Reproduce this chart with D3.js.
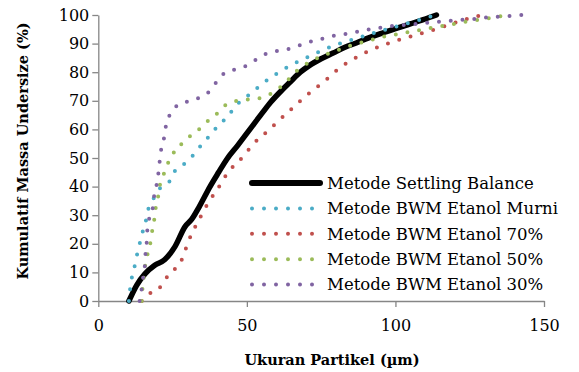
<!DOCTYPE html>
<html>
<head>
<meta charset="utf-8">
<script src="https://d3js.org/d3.v7.min.js"></script>
<style>
body { margin: 0; background: #fff; }
svg { display: block; }
text { font-family: "DejaVu Serif", serif; fill: #000; }
.axis path, .axis line { stroke: #868686; stroke-width: 1.3px; }
.axis text { font-size: 16px; font-family: "DejaVu Serif", serif; }
.title { font-weight: bold; font-size: 14.5px; }
.legend text { font-size: 16.5px; }
</style>
</head>
<body>
<div id="chart"></div>
<script>

var width = 579;
var height = 372;

// data: particle size (um) vs cumulative % undersize
var seriesNames = ["Metode Settling Balance", "Metode BWM Etanol Murni", "Metode BWM Etanol 70%",
  "Metode BWM Etanol 50%", "Metode BWM Etanol 30%"];
var seriesColors = ["#000000", "#4BACC6", "#C0504D", "#9BBB59", "#8064A2"];

var settlingX = [10.3, 12.9, 15.7, 19, 22.4, 25.8, 29.2, 31.4, 34, 37.6, 40.5, 43.2, 47, 51, 55, 58, 61.1, 64.5,
  68, 71, 75, 79, 83, 87, 91, 95, 100, 105, 110, 113.8];
var settlingY = [0, 5.5, 9.5, 12.5, 14.5, 19, 26, 28.5, 33, 40, 45, 49.5, 54.5, 60, 65.5, 69.5, 73, 76.5,
  80, 82.3, 84.7, 86.7, 88.7, 90.3, 92, 93.5, 95.2, 96.9, 98.6, 100];

var murniX = [10.3, 10.7, 11.2, 12, 12.7, 13.5, 14.3, 15.1, 16, 16.8, 18.2, 20, 21.7, 24.1, 25.8, 28.3, 31, 33.1,
  35.5, 38.3, 40.6, 43.5, 45.7, 48.8, 51.9, 54.8, 58, 61.3, 64.5, 68.4, 72, 75.7, 79.3, 83, 86.9, 90.6, 94.4,
  98.1, 102, 106, 109.7, 113.4];
var murniY = [0, 4.2, 7.7, 11, 14.7, 18.2, 21.6, 24.8, 28, 32, 35, 38.5, 40.2, 42, 45.5, 47.4, 49.9, 52.4,
  55.7, 58.6, 61.9, 64.2, 67.7, 70.5, 73.1, 75.6, 78.1, 80.3, 82.3, 84.3, 86, 87.8, 89.3, 90.6, 91.8, 93, 94.2,
  95.3, 96.5, 97.6, 98.8, 100];

var e70X = [14.6, 16.8, 20.2, 22.4, 24.5, 27.2, 28.8, 30.1, 31.6, 33.4, 35.3, 37.2, 39.5, 41.7, 43.7, 46.6, 49.1,
  51.6, 54.4, 57.5, 60.3, 63.4, 66.2, 69.2, 72.3, 75.5, 78.5, 81.3, 84.7, 88.3, 91.7, 95.5, 99.2, 102.9, 106.9,
  110.7, 114.4, 117.7, 121.7, 125.6, 129.3];
var e70Y = [0, 2.3, 4.1, 7.3, 10.3, 12.6, 16.3, 20.2, 23.9, 27.4, 31.2, 34.7, 38.2, 41.7, 45.2, 48.1, 51,
  54.2, 57.2, 59.8, 62.7, 65.6, 68.3, 71.1, 73.8, 76.3, 79, 81.6, 83.9, 86, 87.8, 89.3, 90.7, 91.8, 93,
  94.2, 95.3, 96.5, 97.9, 99.1, 100];

var e50X = [14.6, 14.8, 15.2, 15.5, 16.3, 16.8, 17.4, 18, 18.7, 19.1, 19.6, 20.2, 20.8, 21.7, 23, 24.5, 25.6, 26.9,
  28.3, 30.3, 33.1, 35.8, 39, 41.7, 44.9, 48.8, 52.7, 56.6, 60, 63, 65.6, 68.6, 72, 75.7, 79.4, 83, 86.9, 90.6,
  94.5, 98.5, 102.4, 106.2, 110.2, 114, 118, 121.9, 125.8, 129.7, 133.7, 137.4];
var e50Y = [0, 3.5, 7, 10.8, 14.3, 18, 19.6, 23.7, 27.4, 30.7, 34.7, 36.8, 40.9, 43.5, 47, 50.7, 52.2, 54.5,
  55, 57.2, 59.2, 62.2, 64.4, 67.6, 69.5, 70.3, 70.6, 71.7, 73.8, 76.3, 79.4, 81.9, 84, 85.8, 87.2, 88.6, 89.9, 90.9,
  92.1, 92.9, 93.6, 94.4, 95.1, 95.9, 96.5, 97.3, 98, 98.6, 99.3, 100];

var e30X = [13.9, 14.6, 15.1, 15.7, 15.9, 16.3, 16.5, 17, 18.2, 18.5, 19.4, 19.8, 20.5, 20.8, 21.7, 22.4, 23, 24.7,
  27.1, 30.8, 34.5, 37.6, 40, 42.6, 46.2, 49.9, 53.3, 56.8, 60.6, 64.3, 68.1, 72, 75.7, 79.6, 83.6, 87.5, 91.4,
  95.3, 99.2, 103.2, 107.1, 111, 114.9, 118.9, 122.8, 126.7, 130.6, 134.5, 138.5, 142.6];
var e30Y = [0, 4.4, 8.3, 12.9, 16.7, 20.7, 24.8, 28.3, 30.9, 35.3, 38.6, 42.5, 46.7, 50.8, 54.8, 58.6, 62.7, 65.8,
  68.9, 69.9, 71.4, 73.5, 76.9, 79.8, 81, 82.3, 84.5, 86.6, 87.5, 88.2, 89.5, 90.9, 91.8, 92.8, 93.4, 94.2, 95,
  95.6, 96.2, 96.5, 96.9, 97.3, 97.7, 98, 98.4, 98.6, 99.1, 99.4, 99.7, 100];

var xTicks = [0, 50, 100, 150];
var yTicks = [0, 10, 20, 30, 40, 50, 60, 70, 80, 90, 100];

var allX = [settlingX, murniX, e70X, e50X, e30X];
var allY = [settlingY, murniY, e70Y, e50Y, e30Y];

var series = seriesNames.map(function (name, i) {
  return {
    name: name,
    color: seriesColors[i],
    solid: i === 0,
    points: allX[i].map(function (x, j) { return [x, allY[i][j]]; })
  };
});

var svg = d3.select("#chart").append("svg")
  .attr("width", width).attr("height", height);

var xScale = d3.scaleLinear().domain([0, 150]).range([98.3, 544]);
var yScale = d3.scaleLinear().domain([0, 100]).range([301, 15]);

svg.append("g")
  .attr("class", "axis")
  .attr("transform", "translate(0," + yScale(0) + ")")
  .call(d3.axisBottom(xScale).tickValues(xTicks).tickSize(6).tickSizeOuter(0).tickPadding(13));

svg.append("g")
  .attr("class", "axis")
  .attr("transform", "translate(" + xScale(0) + ",0)")
  .call(d3.axisLeft(yScale).tickValues(yTicks).tickSize(6).tickSizeOuter(0).tickPadding(3));

var line = d3.line()
  .x(function (d) { return xScale(d[0]); })
  .y(function (d) { return yScale(d[1]); })
  .curve(d3.curveMonotoneX);

svg.append("g").selectAll("path").data(series).enter().append("path")
  .attr("d", function (s) { return line(s.points); })
  .attr("fill", "none")
  .attr("stroke", function (s) { return s.color; })
  .attr("stroke-width", function (s) { return s.solid ? 5.5 : 4; })
  .attr("stroke-linecap", "round")
  .attr("stroke-linejoin", "round")
  .attr("stroke-dasharray", function (s) { return s.solid ? null : "0 11.8"; });

// legend
var legend = svg.append("g").attr("class", "legend");
var rows = legend.selectAll("g").data(series).enter().append("g")
  .attr("transform", function (s, i) { return "translate(0," + (183 + i * 25.4) + ")"; });

rows.append("line")
  .attr("x1", 252).attr("x2", function (s) { return s.solid ? 320 : 313; })
  .attr("y1", 0).attr("y2", 0)
  .attr("stroke", function (s) { return s.color; })
  .attr("stroke-width", function (s) { return s.solid ? 6 : 4; })
  .attr("stroke-linecap", "round")
  .attr("stroke-dasharray", function (s) { return s.solid ? null : "0 12"; });

rows.append("text")
  .attr("x", 327).attr("y", 0).attr("dy", "0.35em")
  .text(function (s) { return s.name; });

// axis titles
svg.append("text")
  .attr("class", "title")
  .attr("x", 332).attr("y", 365)
  .attr("text-anchor", "middle")
  .text("Ukuran Partikel (µm)");

svg.append("text")
  .attr("class", "title")
  .attr("transform", "translate(28,151) rotate(-90)")
  .attr("text-anchor", "middle")
  .text("Kumulatif Massa Undersize (%)");

</script>
</body>
</html>
